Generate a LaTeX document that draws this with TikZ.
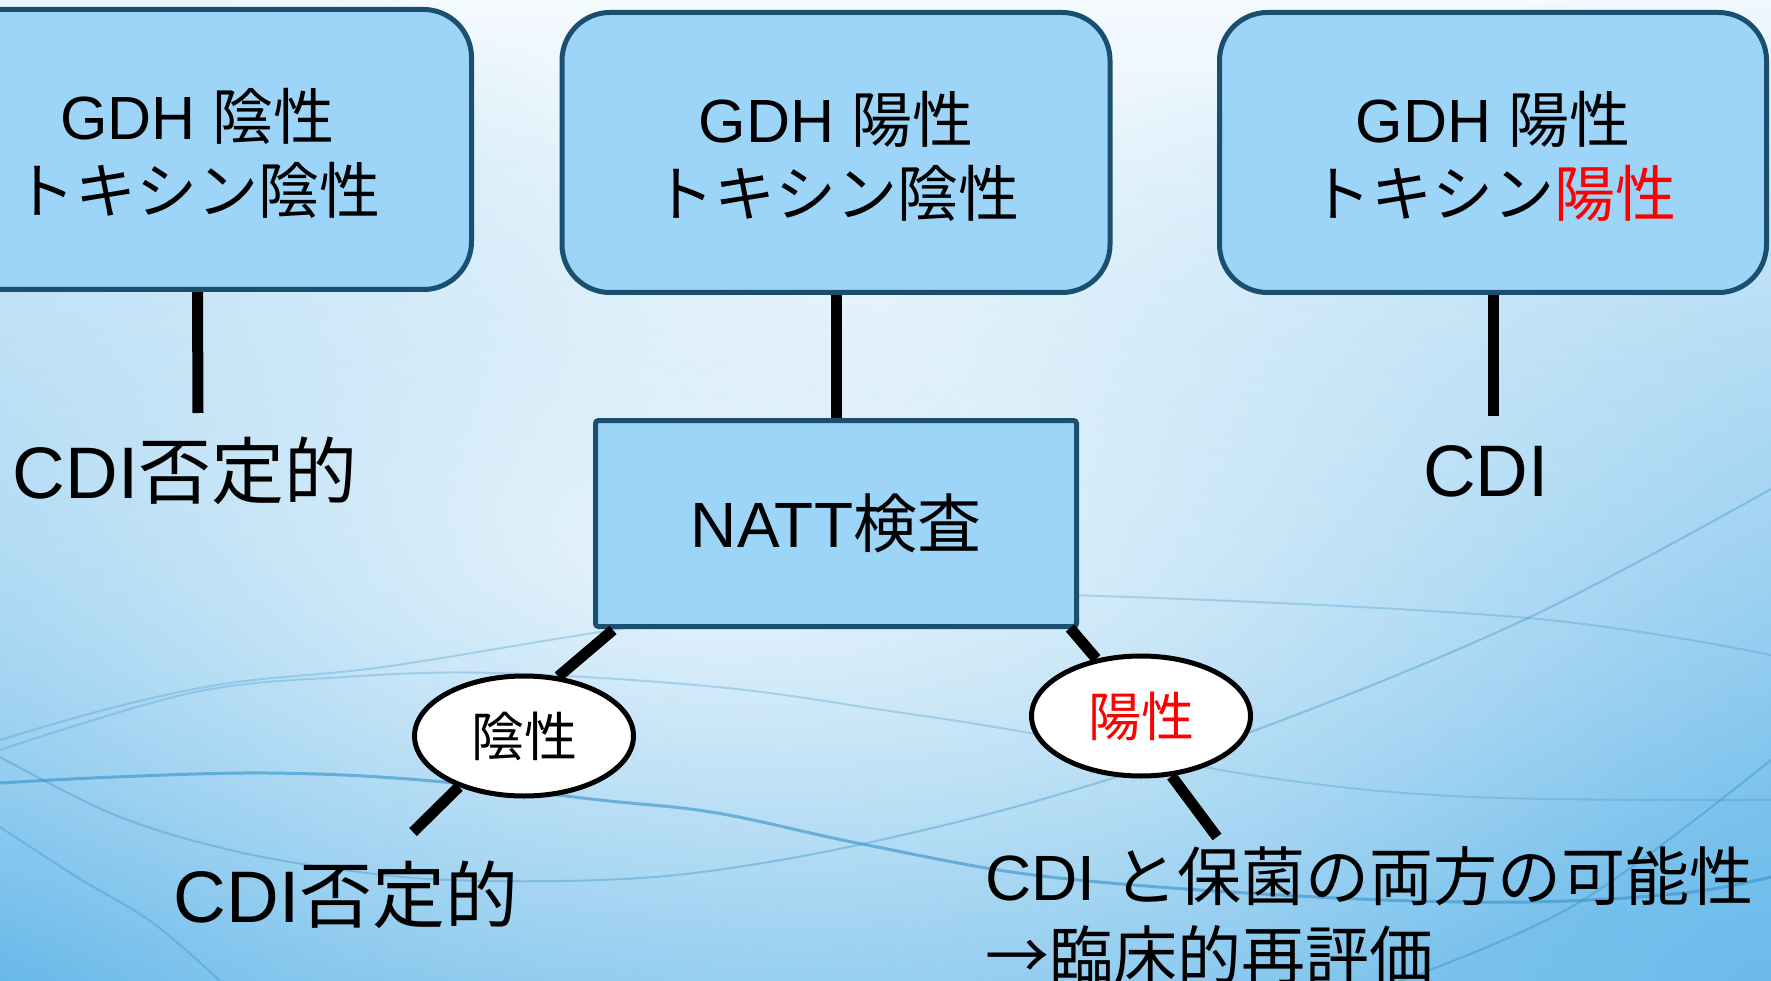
\documentclass[tikz,border=0pt]{standalone}
\usepackage{fontspec}
\setmainfont{Liberation Sans}
\newfontfamily\jp{Noto Sans CJK JP}
\usetikzlibrary{shapes.geometric,fadings}
\newcommand{\J}[1]{{\jp #1}}
\newcommand{\dn}[1]{\raisebox{-4pt}[\height][\depth]{#1}}
\definecolor{boxfill}{HTML}{9DD5F8}
\definecolor{boxline}{HTML}{1B4F6F}
\definecolor{bgtop}{HTML}{F4FAFE}
\definecolor{bgmid}{HTML}{E6F4FC}
\definecolor{bgbot}{HTML}{A6D8F3}
\definecolor{bgblue}{HTML}{66B8EA}
\definecolor{swoosh}{HTML}{3E96CC}
\tikzfading[name=glow, inner color=transparent!0, outer color=transparent!100]
\begin{document}
\begin{tikzpicture}[x=1pt,y=-1pt,
  gbox/.style={draw=boxline, line width=5pt, fill=boxfill, rounded corners=48pt,
    minimum width=548pt, minimum height=280pt, align=center, inner sep=0pt,
    font=\fontsize{61}{74}\selectfont},
  nattbox/.style={draw=boxline, line width=5pt, fill=boxfill, rounded corners=3pt,
    minimum width=481pt, minimum height=206pt, inner sep=0pt,
    font=\fontsize{64}{74}\selectfont},
  tag/.style={ellipse, draw=black, line width=5pt, fill=white, inner sep=0pt,
    minimum width=219pt, minimum height=120pt, font=\fontsize{53}{60}\selectfont},
  lbl/.style={inner sep=0pt, font=\fontsize{73}{88}\selectfont},
  lbltwo/.style={inner sep=0pt, align=left, font=\fontsize{64}{79}\selectfont},
  conn/.style={line width=11pt, black},
  faint/.style={swoosh, line width=2pt, opacity=0.3},
  strong/.style={swoosh, line width=3pt, opacity=0.65}]
\useasboundingbox (0,0) rectangle (1771,981);
% background
\begin{scope}
\clip (0,0) rectangle (1771,981);
\shade[top color=bgtop, middle color=bgmid, bottom color=bgbot] (0,0) rectangle (1771,981);
\fill[bgblue, path fading=glow, opacity=0.95] (0,981) ellipse [x radius=1150, y radius=1050];
\fill[bgblue, path fading=glow, opacity=0.9] (1771,981) ellipse [x radius=1400, y radius=1000];
\fill[white, path fading=glow, opacity=0.75] (720,560) ellipse [x radius=1200, y radius=520];
\draw[faint] plot[smooth, tension=0.6] coordinates {(0,750) (191,693) (344,677) (497,673) (717,687) (883,710) (1030,733) (1264,777) (1473,797) (1771,800)};
\draw[faint] plot[smooth, tension=0.6] coordinates {(0,740) (115,707) (230,683) (383,667) (600,632) (850,596) (1100,596) (1528,618) (1771,655)};
\draw[strong] plot[smooth, tension=0.6] coordinates {(0,783) (115,777) (268,773) (421,780) (600,800) (717,813) (867,845) (1050,877) (1316,897) (1526,902) (1683,893) (1771,877)};
\draw[faint, opacity=0.4] plot[smooth, tension=0.6] coordinates {(0,757) (115,815) (230,850) (344,870) (450,880) (600,880) (717,870) (867,843) (1050,797) (1264,727) (1528,618) (1771,489)};
\draw[faint, opacity=0.4] plot[smooth, tension=0.6] coordinates {(0,827) (77,877) (153,923) (220,981)};
\draw[faint, opacity=0.5] plot[smooth, tension=0.6] coordinates {(1400,981) (1578,903) (1771,760)};
\end{scope}
% boxes
\node[gbox] (lbox) at (197.5,149.5) {\dn{GDH \J{陰性}}\\\dn{\J{トキシン陰性}}};
\node[gbox] (mbox) at (836,152.5) {\dn{GDH \J{陽性}}\\\dn{\J{トキシン陰性}}};
\node[gbox, minimum width=547pt] (rbox) at (1493,152.5) {\dn{GDH \J{陽性}}\\\dn{\J{トキシン}\textcolor{red}{\J{陽性}}}};
\node[nattbox] (natt) at (836,523.5) {NATT\J{検査}};
\node[tag] (neg) at (524,736) {\J{陰性}};
\node[tag, text=red] (pos) at (1141,716) {\J{陽性}};
% texts
\node[lbl] (ltext) at (185,471) {CDI\J{否定的}};
\node[lbl] (rtext) at (1486,471) {CDI};
\node[lbl] (btext) at (346,895) {CDI\J{否定的}};
\node[lbltwo, anchor=north west] (brtext) at (985,846) {CDI \J{と保菌の両方の可能性}\\\J{→臨床的再評価}};
% connector ends
\coordinate (lend) at (198,413);
\coordinate (rend) at (1493,416);
\coordinate (n1) at (613,630);
\coordinate (n2) at (1070,628);
\coordinate (negend) at (413,832);
\coordinate (posend) at (1217,837);
% connectors
\draw[conn] (lbox.south) -- (lend);
\draw[conn] (mbox.south) -- (natt.north);
\draw[conn] (rbox.south) -- (rend);
\draw[conn] (n1) -- (neg.60);
\draw[conn] (neg.218) -- (negend);
\draw[conn] (n2) -- (pos.128);
\draw[conn] (pos.297) -- (posend);
\end{tikzpicture}
\end{document}
